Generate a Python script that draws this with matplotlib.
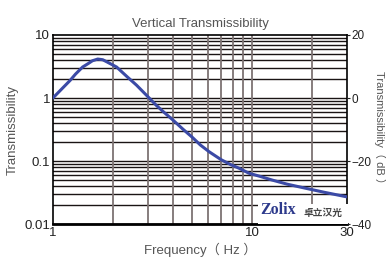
import numpy as np
import matplotlib.pyplot as plt
from matplotlib.ticker import FixedLocator, NullLocator

plt.rcParams['font.family'] = ['Liberation Sans', 'Noto Sans CJK SC']

# values
freq = [1.0, 1.1, 1.22, 1.3, 1.41, 1.5, 1.58, 1.68, 1.78, 1.88, 2.09, 2.35,
        2.63, 3.0, 3.3, 3.6, 4.0, 4.5, 5.0, 5.5, 6.1, 7.0, 7.8, 8.6, 9.66,
        11.0, 12.6, 15.0, 18.6, 23.0, 30.0]
trans = [1.0, 1.36, 1.9, 2.4, 3.1, 3.5, 3.9, 4.15, 4.05, 3.7, 3.1, 2.2,
         1.6, 1.05, 0.77, 0.6, 0.45, 0.32, 0.24, 0.18, 0.14, 0.105, 0.088, 0.077, 0.064,
         0.057, 0.05, 0.043, 0.037, 0.032, 0.027]

x_ticks = [1, 10, 30]
x_grid = [2, 3, 4, 5, 6, 7, 8, 9, 20]
y_ticks = [0.01, 0.1, 1, 10]
y_labels = ['0.01', '0.1', '1', '10']
db_ticks = [-40, -20, 0, 20]

fig = plt.figure(figsize=(3.86, 2.63), dpi=100)
ax = fig.add_axes([0.137, 0.148, 0.762, 0.719])

ax.set_xscale('log')
ax.set_yscale('log')
ax.set_xlim(1, 30)
ax.set_ylim(0.01, 10)

# horizontal grid: every 1..9 in each decade
h_lines = [m * 10.0 ** e for e in range(-2, 1) for m in range(1, 10)]
for y in h_lines:
    ax.axhline(y, color='#1a1414', lw=1.0, zorder=1)
for x in x_grid + [10]:
    ax.axvline(x, color='#7d7373', lw=1.3, zorder=1)

ax.plot(freq, trans, color='#3b4aa6', lw=2.2, zorder=3, solid_capstyle='round')

ax.xaxis.set_major_locator(FixedLocator(x_ticks))
ax.xaxis.set_minor_locator(NullLocator())
ax.set_xticklabels([str(t) for t in x_ticks])
ax.yaxis.set_major_locator(FixedLocator(y_ticks))
ax.yaxis.set_minor_locator(NullLocator())
ax.set_yticklabels(y_labels)
ax.tick_params(length=0, labelsize=9.5, colors='#222222', pad=2)

for s in ['left', 'right', 'top']:
    ax.spines[s].set_linewidth(1.2)
ax.spines['bottom'].set_linewidth(2.0)

ax.set_xlabel('Frequency（ Hz ）', fontsize=9.5, color='#555555', labelpad=3)
ax.set_ylabel('Transmissibility', fontsize=9.5, color='#555555')
ax.yaxis.set_label_coords(-0.115, 0.5)
ax.set_title('Vertical Transmissibility', fontsize=9.5, color='#555555', pad=6)

ax2 = ax.twinx()
ax2.set_ylim(-40, 20)
ax2.yaxis.set_major_locator(FixedLocator(db_ticks))
ax2.tick_params(length=2, labelsize=8.5, colors='#222222', pad=1)
ax2.set_ylabel('Transmissibility（ dB ）', fontsize=8, color='#555555', rotation=270,
               va='center')
ax2.yaxis.set_label_coords(1.11, 0.5)
for s in ax2.spines.values():
    s.set_visible(False)

# logo box
ax.text(0.995, 0.015, ' ' * 22, transform=ax.transAxes, ha='right', va='bottom',
        fontsize=10, zorder=4,
        bbox=dict(boxstyle='square,pad=0.2', fc='white', ec='none'))
ax.text(0.705, 0.03, 'Zolix', transform=ax.transAxes, ha='left', va='bottom',
        fontsize=11.5, fontweight='bold', family='Liberation Serif', color='#2d3a8c', zorder=5)
ax.text(0.985, 0.035, '卓立汉光', transform=ax.transAxes, ha='right', va='bottom',
        fontsize=7, fontweight='bold', family=['Noto Sans CJK SC'], color='#444444', zorder=5)

fig.savefig('out.png', dpi=100)
